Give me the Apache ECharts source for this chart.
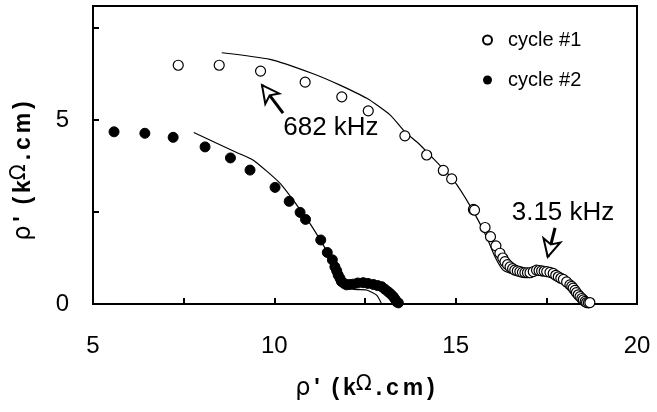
<!DOCTYPE html>
<html>
<head>
<meta charset="utf-8">
<script src="https://cdn.jsdelivr.net/npm/echarts@6/dist/echarts.min.js"></script>
<style>
    html, body { margin: 0; padding: 0; background: #fff; }
    #picture { width: 657px; height: 412px; }
</style>
</head>
<body>
<div id="picture"></div>
<script>
    // cycle #1 measured points (open circles)
    var cycle1X = [7.35, 8.48, 9.62, 10.85, 11.86, 12.59, 13.60, 14.20, 14.66, 14.89, 15.49, 15.52, 15.81, 15.96, 16.11, 16.22, 16.30, 16.36, 16.43, 16.50, 16.57, 16.63, 16.70, 16.77, 16.84, 16.91, 16.98, 17.05, 17.14, 17.23, 17.30, 17.37, 17.44, 17.51, 17.60, 17.69, 17.76, 17.83, 17.90, 17.97, 18.06, 18.15, 18.20, 18.24, 18.29, 18.33, 18.38, 18.43, 18.48, 18.52, 18.57, 18.61, 18.66, 18.70];
    var cycle1Y = [6.49, 6.49, 6.33, 6.03, 5.63, 5.25, 4.57, 4.05, 3.63, 3.40, 2.57, 2.55, 2.08, 1.83, 1.58, 1.38, 1.25, 1.15, 1.07, 1.01, 0.96, 0.92, 0.90, 0.88, 0.86, 0.85, 0.85, 0.85, 0.88, 0.92, 0.91, 0.90, 0.89, 0.88, 0.86, 0.83, 0.78, 0.74, 0.70, 0.67, 0.60, 0.52, 0.48, 0.43, 0.37, 0.31, 0.25, 0.20, 0.15, 0.11, 0.07, 0.04, 0.03, 0.04];
    // cycle #2 measured points (filled circles)
    var cycle2X = [5.58, 6.43, 7.21, 8.09, 8.79, 9.33, 10.02, 10.41, 10.71, 10.86, 11.28, 11.46, 11.60, 11.67, 11.72, 11.76, 11.81, 11.85, 11.92, 11.99, 12.08, 12.18, 12.30, 12.45, 12.58, 12.73, 12.85, 12.96, 13.05, 13.14, 13.21, 13.28, 13.33, 13.37, 13.42];
    var cycle2Y = [4.68, 4.64, 4.53, 4.27, 3.97, 3.64, 3.17, 2.79, 2.49, 2.30, 1.74, 1.40, 1.20, 1.01, 0.90, 0.79, 0.70, 0.61, 0.56, 0.52, 0.53, 0.54, 0.57, 0.58, 0.56, 0.53, 0.50, 0.47, 0.40, 0.33, 0.27, 0.20, 0.13, 0.06, 0.03];
    // fitted curves (thin lines)
    var fit1X = [8.55, 9.88, 11.07, 11.81, 12.55, 13.19, 13.60, 13.97, 14.25, 14.94, 15.44, 15.85, 16.08, 16.31, 16.59, 17.14, 17.69, 18.06, 18.33, 18.56, 18.62];
    var fit1Y = [6.83, 6.65, 6.26, 5.95, 5.59, 5.14, 4.68, 4.37, 4.09, 3.37, 2.60, 1.83, 1.29, 0.92, 0.82, 0.83, 0.79, 0.65, 0.38, 0.06, 0.00];
    var fit2X = [7.78, 8.96, 9.42, 10.16, 10.62, 10.98, 11.35, 11.63, 11.90, 12.18, 12.54, 12.82, 12.96];
    var fit2Y = [4.66, 4.12, 3.91, 3.28, 2.69, 2.19, 1.60, 1.11, 0.56, 0.40, 0.38, 0.24, 0.00];
    var xTicks = [5, 10, 15, 20];
    var yTicks = [0, 5];

    function pairs(xs, ys) {
        var out = [];
        for (var i = 0; i < xs.length; i++) out.push([xs[i], ys[i]]);
        return out;
    }

    // axis title: rho, bold prime, (k, raised Omega, .cm) -- spread out like the original
    var titleRich = {
        a: { fontSize: 24, fontWeight: 'normal', color: '#000', fontFamily: 'DejaVu Sans' },
        b: { fontSize: 23, fontWeight: 'bold', color: '#000', fontFamily: 'Liberation Sans' },
        c: { fontSize: 21, fontWeight: 'normal', color: '#000', fontFamily: 'DejaVu Sans', padding: [0, 0, 9, 0] },
        s: { fontSize: 14 }
    };
    var axisTitle = '{a|ρ}{s| }{b|\'}{s|   }{b|(}{s| }{b|k}{c|Ω}{s| }{b|.}{s| }{b|c}{s| }{b|m}{s| }{b|)}';

    var myChart = echarts.init(document.getElementById('picture'));
    var option = {
        animation: false,
        textStyle: { fontFamily: 'Liberation Sans' },
        grid: {
            left: 93, right: 20, top: 6, bottom: 108,
            show: true, borderColor: '#000', borderWidth: 2
        },
        legend: {
            orient: 'vertical',
            left: 477, top: 25,
            itemWidth: 9, itemHeight: 9,
            itemGap: 20,
            icon: 'circle',
            textStyle: { fontSize: 20, color: '#000', lineHeight: 20, padding: [0, 0, 0, 11] },
            data: ['cycle #1', 'cycle #2']
        },
        xAxis: {
            type: 'value', min: 5, max: 20, interval: 2.5,
            name: axisTitle, nameLocation: 'middle', nameGap: 70,
            nameTextStyle: { fontSize: 23, color: '#000', rich: titleRich },
            axisLine: { lineStyle: { color: '#000', width: 2 } },
            axisTick: { inside: true, length: 6, lineStyle: { color: '#000', width: 2 } },
            axisLabel: {
                fontSize: 24, color: '#000', margin: 30,
                formatter: function(v) { return xTicks.indexOf(v) >= 0 ? String(v) : ''; }
            },
            splitLine: { show: false }
        },
        yAxis: {
            type: 'value', min: 0, max: 8.1, interval: 2.5,
            name: axisTitle, nameLocation: 'middle', nameGap: 54, nameRotate: 90,
            nameTextStyle: { fontSize: 23, color: '#000', rich: titleRich, padding: [0, 32, 0, 0] },
            axisLine: { lineStyle: { color: '#000', width: 2 } },
            axisTick: { inside: true, length: 6, lineStyle: { color: '#000', width: 2 } },
            axisLabel: {
                fontSize: 24, color: '#000', margin: 24,
                formatter: function(v) { return yTicks.indexOf(v) >= 0 ? String(v) : ''; }
            },
            splitLine: { show: false }
        },
        series: [{
            name: 'fit1', type: 'line', data: pairs(fit1X, fit1Y),
            showSymbol: false, smooth: 0.2, lineStyle: { color: '#000', width: 1.2 }, z: 1
        }, {
            name: 'fit2', type: 'line', data: pairs(fit2X, fit2Y),
            showSymbol: false, smooth: 0.2, lineStyle: { color: '#000', width: 1.2 }, z: 1
        }, {
            name: 'cycle #1', type: 'scatter', data: pairs(cycle1X, cycle1Y),
            symbol: 'circle', symbolSize: 10,
            itemStyle: { color: '#fff', borderColor: '#000', borderWidth: 1.2, opacity: 1 },
            z: 3,
            markLine: {
                silent: true,
                lineStyle: { color: '#000', width: 3, type: 'solid' },
                label: { show: false },
                symbolSize: [13, 17],
                data: [
                    [{ coord: [10.24, 5.19], symbol: 'none' }, { coord: [9.66, 5.95], symbol: 'emptyArrow' }],
                    [{ coord: [17.74, 2.07], symbol: 'none' }, { coord: [17.54, 1.28], symbol: 'emptyArrow' }]
                ]
            },
            markPoint: {
                silent: true,
                symbol: 'circle', symbolSize: 0,
                label: { show: true, position: 'inside', fontSize: 26, color: '#000', formatter: '{b}' },
                data: [
                    { name: '682 kHz', coord: [11.56, 4.78] },
                    { name: '3.15 kHz', coord: [17.96, 2.47] }
                ]
            }
        }, {
            name: 'cycle #2', type: 'scatter', data: pairs(cycle2X, cycle2Y),
            symbol: 'circle', symbolSize: 10,
            itemStyle: { color: '#000', borderColor: '#000', opacity: 1 },
            z: 3
        }]
    };
    myChart.setOption(option);

    window.onresize = function() {
        myChart.resize();
    };
</script>
</body>
</html>
